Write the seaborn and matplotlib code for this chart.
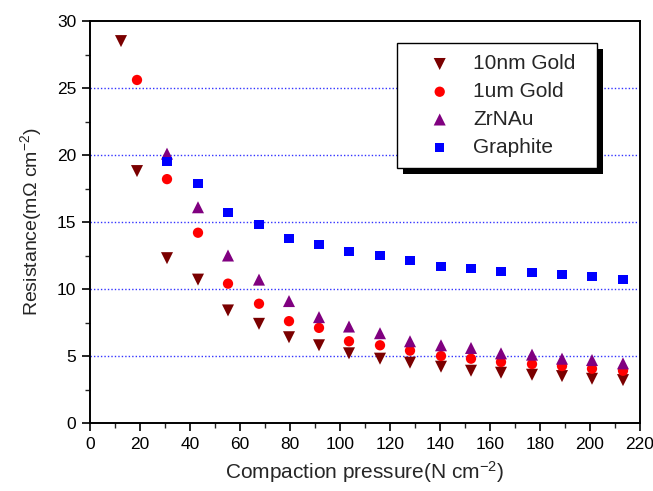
import matplotlib
matplotlib.use("Agg")
import matplotlib.pyplot as plt
import seaborn as sns
import pandas as pd
from matplotlib.ticker import MultipleLocator
from matplotlib.patches import Rectangle

# Data
x_10nm = [12.4, 18.8, 30.8, 43.2, 55.2, 67.6, 79.6, 91.6, 103.6, 116, 128, 140.4, 152.4, 164.4, 176.8, 188.8, 200.8, 213.2]
y_10nm = [28.5, 18.8, 12.3, 10.7, 8.4, 7.4, 6.4, 5.8, 5.2, 4.8, 4.5, 4.2, 3.9, 3.75, 3.6, 3.5, 3.3, 3.2]

x_1um = [18.8, 30.8, 43.2, 55.2, 67.6, 79.6, 91.6, 103.6, 116, 128, 140.4, 152.4, 164.4, 176.8, 188.8, 200.8, 213.2]
y_1um = [25.6, 18.2, 14.2, 10.4, 8.9, 7.6, 7.1, 6.1, 5.8, 5.4, 5.0, 4.8, 4.55, 4.4, 4.25, 4.05, 3.9]

x_zr = [30.8, 43.2, 55.2, 67.6, 79.6, 91.6, 103.6, 116, 128, 140.4, 152.4, 164.4, 176.8, 188.8, 200.8, 213.2]
y_zr = [20.1, 16.1, 12.5, 10.7, 9.1, 7.9, 7.2, 6.7, 6.1, 5.8, 5.6, 5.2, 5.1, 4.8, 4.7, 4.45]

x_gr = [30.8, 43.2, 55.2, 67.6, 79.6, 91.6, 103.6, 116, 128, 140.4, 152.4, 164.4, 176.8, 188.8, 200.8, 213.2]
y_gr = [19.5, 17.9, 15.7, 14.8, 13.8, 13.3, 12.8, 12.5, 12.1, 11.7, 11.5, 11.3, 11.2, 11.1, 10.9, 10.7]

labels = ["10nm Gold", "1um Gold", "ZrNAu", "Graphite"]

sns.set_theme(style="white")
plt.rcParams['font.family'] = ['Liberation Sans', 'DejaVu Sans']
plt.rcParams['mathtext.fontset'] = 'custom'
plt.rcParams['mathtext.rm'] = 'Liberation Sans'
plt.rcParams['mathtext.it'] = 'Liberation Sans'

fig = plt.figure(figsize=(6.53, 4.91), dpi=100)
ax = fig.add_axes([90/653, 1-423/491, 550/653, 402/491])

series = [
    (x_10nm, y_10nm, labels[0], "#7a0000", "v", 75),
    (x_1um, y_1um, labels[1], "#ff0000", "o", 55),
    (x_zr, y_zr, labels[2], "#800080", "^", 75),
    (x_gr, y_gr, labels[3], "#0000ff", "s", 42),
]
for xs, ys, lab, col, mk, s in series:
    df = pd.DataFrame({"x": xs, "y": ys})
    sns.scatterplot(data=df, x="x", y="y", ax=ax, color=col, marker=mk, s=s,
                    edgecolor="none", label=lab, zorder=3)

ax.set_xlim(0, 220)
ax.set_ylim(0, 30)
ax.xaxis.set_major_locator(MultipleLocator(20))
ax.xaxis.set_minor_locator(MultipleLocator(10))
ax.yaxis.set_major_locator(MultipleLocator(5))
ax.yaxis.set_minor_locator(MultipleLocator(2.5))
ax.tick_params(which='major', direction='out', length=6, width=1.2, labelsize=12.5,
               bottom=True, left=True, top=False, right=False, colors='black', pad=4)
ax.tick_params(which='minor', direction='out', length=3.5, width=1.0,
               bottom=True, left=True, top=False, right=False)
for sp in ax.spines.values():
    sp.set_color('black')
    sp.set_linewidth(1.4)

for yv in [5, 10, 15, 20, 25]:
    ax.axhline(yv, color='#3333ff', linestyle=(0, (1, 1.5)), linewidth=1.0, zorder=1)

ax.set_xlabel("Compaction pressure(N cm$^{-2}$)", fontsize=15, labelpad=5)
ax.set_ylabel("Resistance(m\u03a9 cm$^{-2}$)", fontsize=14, labelpad=9)

x0 = (397 - 90) / 550
w = (597 - 397) / 550
y1 = (423 - 43) / 402
y0 = (423 - 166) / 402
leg = ax.legend(loc='upper left', bbox_to_anchor=(x0, y0, w, y1 - y0), mode='expand',
                fontsize=15, frameon=True, fancybox=False, shadow=False,
                borderpad=0.55, labelspacing=0.42, handletextpad=0.1,
                handlelength=3.0, markerscale=1.0, borderaxespad=0)
leg.get_frame().set_edgecolor('black')
leg.get_frame().set_linewidth(1.0)
leg.get_frame().set_alpha(1)
leg.set_zorder(10)

# Shadow behind the legend box (black, offset down-right)
fig.canvas.draw()
bb = leg.get_frame().get_window_extent()
inv = ax.transAxes.inverted()
(ax0, ay0), (ax1, ay1) = inv.transform([[bb.x0 + 6, bb.y0 - 6], [bb.x1 + 6, bb.y1 - 6]])
ax.add_patch(Rectangle((ax0, ay0), ax1 - ax0, ay1 - ay0, transform=ax.transAxes,
                       facecolor='black', edgecolor='none', zorder=9, clip_on=False))

fig.savefig("out.png", dpi=100)
